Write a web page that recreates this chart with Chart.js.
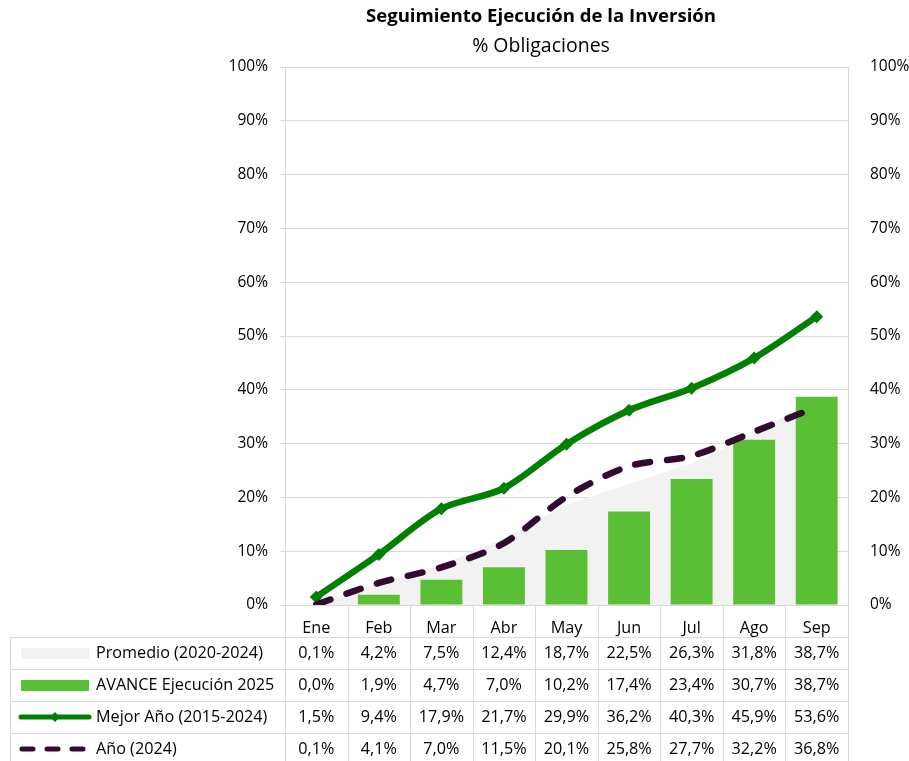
<!DOCTYPE html>
<html>
<head>
<meta charset="utf-8">
<script src="https://cdn.jsdelivr.net/npm/chart.js@4.4.1/dist/chart.umd.min.js"></script>
<style>
  html, body { margin: 0; padding: 0; background: #fff; }
  #wrap { width: 909px; height: 761px; position: relative; }
</style>
</head>
<body>
<div id="wrap"><canvas id="chart"></canvas></div>
<script>
const months = ['Ene', 'Feb', 'Mar', 'Abr', 'May', 'Jun', 'Jul', 'Ago', 'Sep'];
const promedio = [0.1, 4.2, 7.5, 12.4, 18.7, 22.5, 26.3, 31.8, 38.7];
const avance2025 = [0.0, 1.9, 4.7, 7.0, 10.2, 17.4, 23.4, 30.7, 38.7];
const mejorAnio = [1.5, 9.4, 17.9, 21.7, 29.9, 36.2, 40.3, 45.9, 53.6];
const anio2024 = [0.1, 4.1, 7.0, 11.5, 20.1, 25.8, 27.7, 32.2, 36.8];

const titleText = 'Seguimiento Ejecución de la Inversión';
const subtitleText = '% Obligaciones';

const FONT = '"Open Sans", "DejaVu Sans", sans-serif';
const FONT_SIZE = 15.5;
const TABLE_SIZE = 16.2;
const GRID = '#d9d9d9';
const BAR_GREEN = '#5bbf36';
const LINE_GREEN = '#008000';
const DARK = '#320b2e';
const AREA_GRAY = '#f2f2f2';

// rows of the data table under the chart
const tableRows = [
    { label: 'Promedio (2020-2024)', values: promedio, key: 'area' },
    { label: 'AVANCE Ejecución 2025', values: avance2025, key: 'bar' },
    { label: 'Mejor Año (2015-2024)', values: mejorAnio, key: 'line' },
    { label: 'Año (2024)', values: anio2024, key: 'dash' }
];

const fmt = v => v.toFixed(1).replace('.', ',') + '%';

const dataTablePlugin = {
    id: 'dataTable',
    afterDraw(chart) {
        const ctx = chart.ctx;
        const xs = chart.scales.x;
        const area = chart.chartArea;
        const half = (xs.getPixelForValue(1) - xs.getPixelForValue(0)) / 2;
        const rowH = 32;
        const top = area.bottom;
        const bodyTop = top + 32;
        const left = 10.5;

        ctx.save();
        // titles
        ctx.fillStyle = '#000';
        ctx.textAlign = 'center';
        ctx.textBaseline = 'middle';
        ctx.font = 'bold 18.6px ' + FONT;
        ctx.fillText(titleText, 541, 17);
        ctx.font = '19.5px ' + FONT;
        ctx.fillText(subtitleText, 541, 46);

        // table lines
        ctx.strokeStyle = GRID;
        ctx.lineWidth = 1;
        ctx.beginPath();
        for (let i = 0; i <= months.length; i++) {
            const bx = Math.round(xs.getPixelForValue(0) - half + i * 2 * half) + 0.5;
            ctx.moveTo(bx, top);
            ctx.lineTo(bx, chart.height);
        }
        for (let r = 0; r < tableRows.length; r++) {
            const y = Math.round(bodyTop + r * rowH) + 0.5;
            ctx.moveTo(left, y);
            ctx.lineTo(area.right, y);
        }
        ctx.moveTo(left, bodyTop);
        ctx.lineTo(left, chart.height);
        ctx.stroke();

        // rows
        ctx.font = TABLE_SIZE + 'px ' + FONT;
        tableRows.forEach((row, r) => {
            const cy = bodyTop + r * rowH + rowH / 2;
            // legend key
            if (row.key === 'area' || row.key === 'bar') {
                ctx.fillStyle = row.key === 'area' ? AREA_GRAY : BAR_GREEN;
                ctx.fillRect(21, cy - 5, 68, 11);
            } else if (row.key === 'line') {
                ctx.strokeStyle = LINE_GREEN;
                ctx.lineWidth = 5;
                ctx.lineCap = 'round';
                ctx.setLineDash([]);
                ctx.beginPath();
                ctx.moveTo(21, cy);
                ctx.lineTo(89, cy);
                ctx.stroke();
                ctx.fillStyle = LINE_GREEN;
                ctx.beginPath();
                ctx.moveTo(55, cy - 5);
                ctx.lineTo(60, cy);
                ctx.lineTo(55, cy + 5);
                ctx.lineTo(50, cy);
                ctx.closePath();
                ctx.fill();
            } else {
                ctx.strokeStyle = DARK;
                ctx.lineWidth = 5;
                ctx.lineCap = 'round';
                ctx.setLineDash([11, 14]);
                ctx.beginPath();
                ctx.moveTo(22, cy);
                ctx.lineTo(89, cy);
                ctx.stroke();
                ctx.setLineDash([]);
            }
            ctx.fillStyle = '#000';
            ctx.textAlign = 'left';
            ctx.fillText(row.label, 96, cy);
            ctx.textAlign = 'center';
            row.values.forEach((v, i) => {
                ctx.fillText(fmt(v), xs.getPixelForValue(i), cy);
            });
        });
        ctx.restore();
    }
};

const tickFont = { family: FONT, size: FONT_SIZE };

new Chart(document.getElementById('chart'), {
    data: {
        labels: months,
        datasets: [
            {
                type: 'line',
                label: 'Promedio (2020-2024)',
                data: promedio,
                fill: 'origin',
                backgroundColor: AREA_GRAY,
                borderWidth: 0,
                pointRadius: 0,
                tension: 0,
                order: 4
            },
            {
                type: 'bar',
                label: 'AVANCE Ejecución 2025',
                data: avance2025,
                backgroundColor: BAR_GREEN,
                barPercentage: 0.67,
                categoryPercentage: 1,
                order: 3
            },
            {
                type: 'line',
                label: 'Mejor Año (2015-2024)',
                data: mejorAnio,
                borderColor: LINE_GREEN,
                backgroundColor: LINE_GREEN,
                borderWidth: 6.5,
                pointStyle: 'rectRot',
                pointRadius: 6.5,
                pointBorderWidth: 0,
                tension: 0.3,
                fill: false,
                order: 2
            },
            {
                type: 'line',
                label: 'Año (2024)',
                data: anio2024,
                borderColor: DARK,
                borderWidth: 6.5,
                borderDash: [15, 17],
                borderCapStyle: 'round',
                pointRadius: 0,
                tension: 0.3,
                fill: false,
                order: 1
            }
        ]
    },
    options: {
        responsive: true,
        maintainAspectRatio: false,
        animation: false,
        layout: {
            padding: { top: 67, left: 173, right: 0, bottom: 124 }
        },
        plugins: {
            legend: { display: false },
            tooltip: { enabled: false }
        },
        scales: {
            x: {
                grid: { display: false },
                border: { display: true, color: GRID },
                ticks: { color: '#000', font: { family: FONT, size: TABLE_SIZE }, padding: 6 },
                afterFit(scale) { scale.height = 32; }
            },
            y: {
                position: 'left',
                min: 0,
                max: 100,
                ticks: {
                    stepSize: 10,
                    color: '#000',
                    font: tickFont,
                    padding: 12,
                    callback: v => v + '%'
                },
                grid: { color: GRID, tickLength: 5 },
                border: { color: GRID },
                afterFit(scale) { scale.width = 112; }
            },
            y2: {
                position: 'right',
                min: 0,
                max: 100,
                ticks: {
                    stepSize: 10,
                    color: '#000',
                    font: tickFont,
                    padding: 14,
                    callback: v => v + '%'
                },
                grid: { display: false },
                border: { display: true, color: GRID },
                afterFit(scale) { scale.width = 61; }
            }
        }
    },
    plugins: [dataTablePlugin]
});
</script>
</body>
</html>
